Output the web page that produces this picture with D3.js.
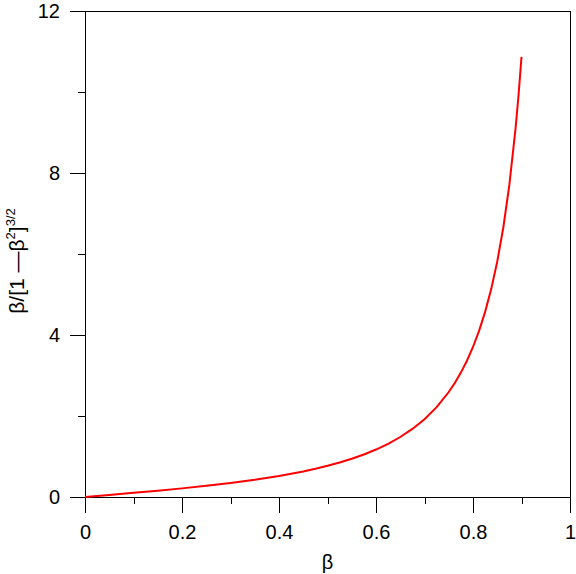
<!DOCTYPE html>
<html>
<head>
<meta charset="utf-8">
<script src="https://cdn.jsdelivr.net/npm/d3@7"></script>
<style>
  body { margin: 0; background: #fff; }
  text { font-family: "Liberation Sans", Arial, sans-serif; }
</style>
</head>
<body>
<div id="chart"></div>
<script>
// valores
const betaValues = [0, 0.05, 0.1, 0.15, 0.2, 0.25, 0.3, 0.35, 0.4, 0.45, 0.475, 0.5, 0.525, 0.55, 0.575, 0.6, 0.625, 0.65, 0.675, 0.7, 0.725, 0.75, 0.7625, 0.775, 0.7875, 0.8, 0.8125, 0.825, 0.8375, 0.85, 0.8625, 0.875, 0.8875, 0.89375, 0.9];
const curveValues = [0, 0.050, 0.102, 0.155, 0.213, 0.275, 0.346, 0.426, 0.520, 0.632, 0.697, 0.770, 0.852, 0.944, 1.050, 1.172, 1.314, 1.481, 1.681, 1.922, 2.219, 2.592, 2.816, 3.071, 3.364, 3.704, 4.101, 4.571, 5.133, 5.815, 6.655, 7.712, 9.070, 9.902, 10.867];
const xTicks = [0, 0.2, 0.4, 0.6, 0.8, 1];
const xMinor = [0.1, 0.3, 0.5, 0.7, 0.9];
const yTicks = [0, 4, 8, 12];
const yMinor = [2, 6, 10];

const W = 576, H = 574;
const margin = {top: 11, right: 6, bottom: 77, left: 85};
const width = W - margin.left - margin.right;
const height = H - margin.top - margin.bottom;

const svg = d3.select('#chart').append('svg')
    .attr('width', W)
    .attr('height', H);

const g = svg.append('g')
    .attr('transform', `translate(${margin.left},${margin.top})`);

// escalas
const x = d3.scaleLinear().domain([0, 1]).range([0, width]);
const y = d3.scaleLinear().domain([0, 12]).range([height, 0]);

// moldura
g.append('rect')
    .attr('x', 0).attr('y', 0)
    .attr('width', width).attr('height', height)
    .attr('fill', 'none')
    .attr('stroke', '#000')
    .attr('stroke-width', 1)
    .attr('shape-rendering', 'crispEdges');

// eixo x
const xAxis = g.append('g')
    .attr('transform', `translate(0,${height})`)
    .call(d3.axisBottom(x).tickValues(xTicks).tickSize(16).tickPadding(12).tickFormat(d3.format('')));
xAxis.select('.domain').remove();

g.append('g')
    .attr('transform', `translate(0,${height})`)
    .call(d3.axisBottom(x).tickValues(xMinor).tickSize(7).tickFormat(''))
    .select('.domain').remove();

// eixo y
const yAxis = g.append('g')
    .call(d3.axisLeft(y).tickValues(yTicks).tickSize(15).tickPadding(10));
yAxis.select('.domain').remove();

g.append('g')
    .call(d3.axisLeft(y).tickValues(yMinor).tickSize(7).tickFormat(''))
    .select('.domain').remove();

g.selectAll('.tick line')
    .attr('stroke', '#000')
    .attr('shape-rendering', 'crispEdges');

g.selectAll('.tick text')
    .style('font-size', '20px')
    .attr('fill', '#000');

// curva
const points = betaValues.map((b, i) => ({b, v: curveValues[i]}));
g.append('path')
    .datum(points)
    .attr('fill', 'none')
    .attr('stroke', '#ff0000')
    .attr('stroke-width', 2)
    .attr('d', d3.line().x(d => x(d.b)).y(d => y(d.v)));

// títulos dos eixos
svg.append('text')
    .attr('x', margin.left + width / 2)
    .attr('y', 569)
    .attr('text-anchor', 'middle')
    .style('font-size', '20px')
    .text('β');

const yTitle = svg.append('text')
    .attr('transform', 'translate(24,261) rotate(-90)')
    .attr('text-anchor', 'middle')
    .style('font-size', '21px');
yTitle.append('tspan').text('β/[1 \u2014β');
yTitle.append('tspan').attr('dy', -9).style('font-size', '13px').text('2');
yTitle.append('tspan').attr('dy', 9).text(']');
yTitle.append('tspan').attr('dy', -9).style('font-size', '13px').text('3/2');
</script>
</body>
</html>
